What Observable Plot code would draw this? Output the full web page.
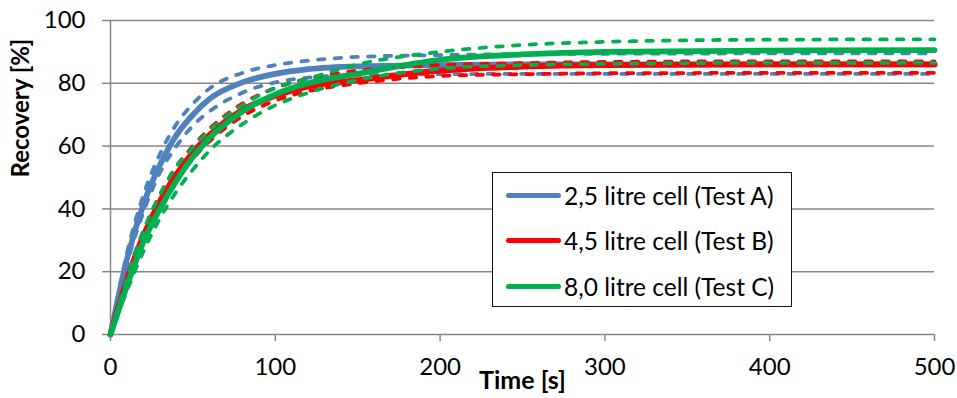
<!DOCTYPE html>
<html>
<head>
<meta charset="utf-8">
<script src="https://cdn.jsdelivr.net/npm/d3@7"></script>
<script src="https://cdn.jsdelivr.net/npm/@observablehq/plot@0.6"></script>
<style>
  html, body { margin: 0; padding: 0; background: #fff; }
  #wrap { position: relative; width: 957px; height: 398px; font-family: Lato, "Open Sans", sans-serif; }
  #legend { position: absolute; left: 492px; top: 172px; width: 298px; height: 133px; border: 1.5px solid #111; background: #fff; }
  .row { position: absolute; left: 0; height: 30px; display: flex; align-items: center; }
  .sw { width: 55px; height: 5px; border-radius: 3px; margin-left: 13px; margin-right: 3px; }
  .lab { font-size: 24.5px; color: #000; white-space: nowrap; }
</style>
</head>
<body>
<div id="wrap"><div id="chart"></div><div id="legend"></div></div>
<script>
// Time axis samples [s]
const time = [0, 10, 20, 30, 40, 50, 60, 80, 100, 120, 150, 200, 250, 300, 400, 500];

// Test A (2,5 litre cell): mean and bounds [%]
const aMean  = [0, 24, 41.5, 54, 63.5, 70, 75, 80.3, 83, 84.5, 85.4, 85.8, 86, 86, 86, 86];
const aUpper = [0, 26, 44.5, 57.5, 67, 73.5, 78.3, 83.3, 85.8, 87.2, 88.4, 89, 89.3, 89.4, 89.5, 89.5];
const aLower = [0, 22.5, 39, 51.5, 60, 66.5, 71, 77, 80.3, 81.8, 82.6, 82.9, 83, 83, 83, 83];

// Test B (4,5 litre cell)
const bMean  = [0, 17.5, 31.5, 42.5, 51, 58, 63.5, 71.5, 76, 79, 81, 84, 85.3, 85.8, 86, 86];
const bUpper = [0, 18.5, 33, 44.5, 53.5, 60, 65.5, 73.5, 78.5, 81.5, 84, 85.8, 86.4, 86.8, 87, 87];
const bLower = [0, 16.5, 30, 40.5, 49, 56, 61.5, 69.5, 74.5, 77.5, 80, 82.3, 82.9, 83.2, 83.3, 83.3];

// Test C (8,0 litre cell)
const cMean  = [0, 15.5, 29.5, 40, 49, 56.5, 62.5, 71, 76.5, 80, 83, 87.5, 89.2, 90, 90.4, 90.6];
const cUpper = [0, 18, 33, 44.5, 53.5, 59.5, 65, 73, 78.5, 81.5, 86, 90, 92.2, 93.2, 93.9, 94];
const cLower = [0, 14, 26.5, 37, 45.5, 52.5, 58.5, 67, 73, 77, 81, 84.7, 85.8, 86.2, 86.5, 86.5];

const seriesNames = ["2,5 litre cell (Test A)", "4,5 litre cell (Test B)", "8,0 litre cell (Test C)"];
const seriesColors = ["#4F81BD", "#FF0000", "#00B050"];
const xTicks = [0, 100, 200, 300, 400, 500];
const yTicks = [0, 20, 40, 60, 80, 100];
const xTitle = "Time [s]";
const yTitle = "Recovery [%]";

const seriesData = [
  {mean: aMean, upper: aUpper, lower: aLower},
  {mean: bMean, upper: bUpper, lower: bLower},
  {mean: cMean, upper: cUpper, lower: cLower}
];

const rows = [];
seriesData.forEach((s, i) => {
  ["upper", "lower", "mean"].forEach(kind => {
    s[kind].forEach((v, j) => rows.push({t: time[j], r: v, test: seriesNames[i], kind}));
  });
});

const grid = "#868686";
const lineMarks = [];
seriesNames.forEach((name, i) => {
  lineMarks.push(Plot.line(rows.filter(d => d.test === name && d.kind !== "mean"), {
    x: "t", y: "r", z: "kind", stroke: seriesColors[i], strokeWidth: 3.75,
    strokeDasharray: "6.5,10.2", strokeLinecap: "round", curve: "monotone-x"
  }));
  lineMarks.push(Plot.line(rows.filter(d => d.test === name && d.kind === "mean"), {
    x: "t", y: "r", stroke: seriesColors[i], strokeWidth: 5.75, strokeLinecap: "round", curve: "monotone-x"
  }));
});

const chart = Plot.plot({
  width: 957,
  height: 398,
  marginLeft: 110,
  marginRight: 23,
  marginTop: 20,
  marginBottom: 64,
  style: {fontFamily: "Lato, 'Open Sans', sans-serif", color: "#000", background: "#fff"},
  x: {domain: [0, 500]},
  y: {domain: [0, 100]},
  marks: [
    Plot.gridY(yTicks, {stroke: grid, strokeOpacity: 1, strokeWidth: 1.5}),
    Plot.ruleX([0], {stroke: grid, strokeWidth: 1.5}),
    Plot.axisY(yTicks, {tickSize: 8, tickPadding: 17, stroke: grid, strokeWidth: 1.5, fontSize: 24, label: null}),
    Plot.axisX(xTicks, {tickSize: 7, tickPadding: 16, stroke: grid, strokeWidth: 1.5, fontSize: 24, label: null}),
    ...lineMarks,
    Plot.text([yTitle], {frameAnchor: "left", rotate: -90, dx: -89, fontSize: 24, fontWeight: "bold", fill: "#000"}),
    Plot.text([xTitle], {frameAnchor: "bottom", dy: 54, fontSize: 25, fontWeight: "bold", fill: "#000"})
  ]
});
document.getElementById("chart").appendChild(chart);

const legend = document.getElementById("legend");
const rowTops = [7, 52, 98];
seriesNames.forEach((name, i) => {
  const row = document.createElement("div");
  row.className = "row";
  row.style.top = rowTops[i] + "px";
  const sw = document.createElement("div");
  sw.className = "sw";
  sw.style.background = seriesColors[i];
  const lab = document.createElement("span");
  lab.className = "lab";
  lab.textContent = name;
  row.appendChild(sw);
  row.appendChild(lab);
  legend.appendChild(row);
});
</script>
</body>
</html>
